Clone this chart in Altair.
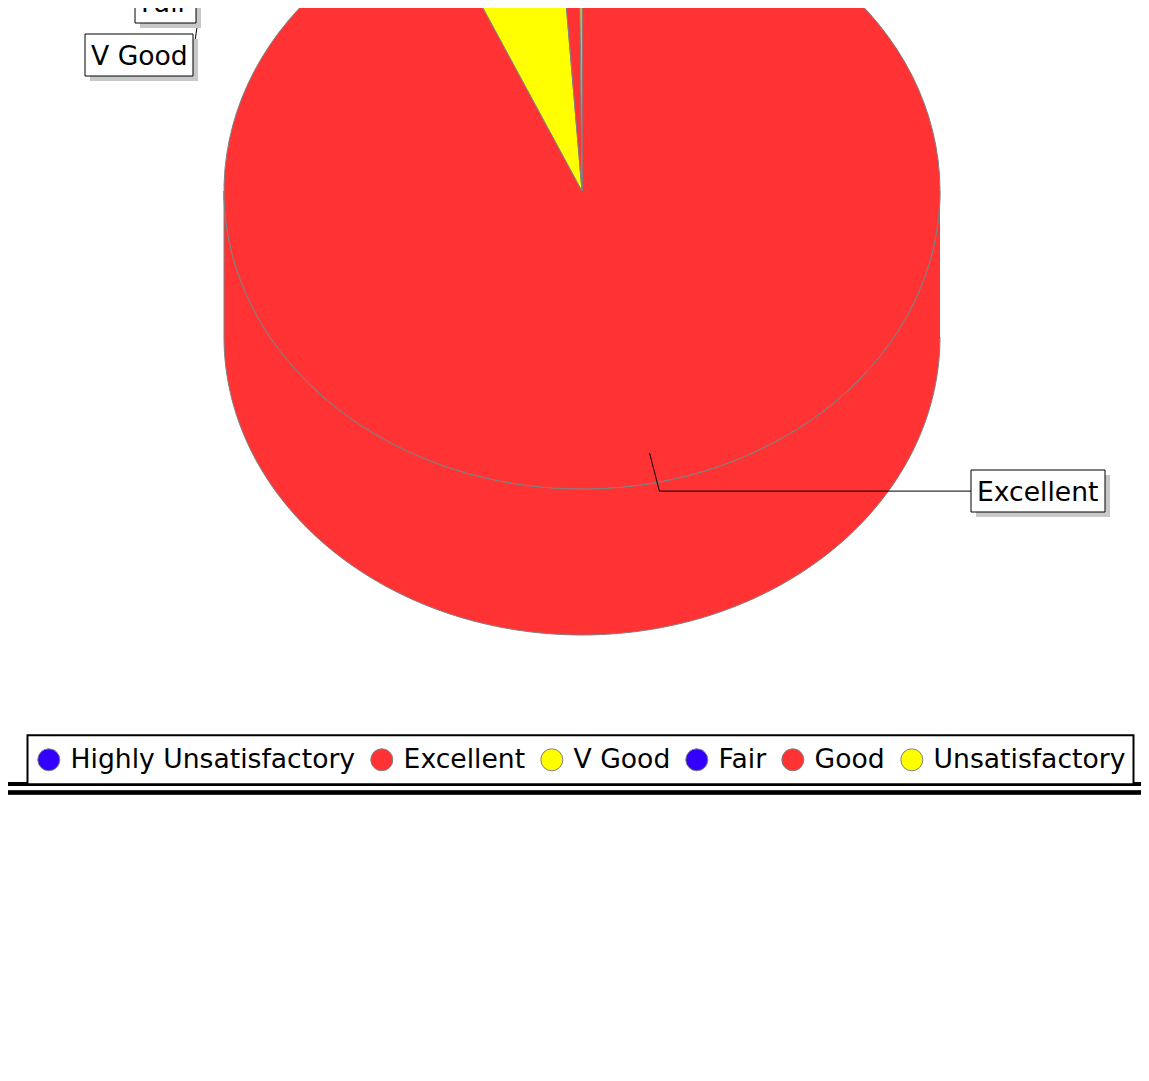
import math
import altair as alt
import pandas as pd

# ---------------- data ----------------
categories = ["Highly Unsatisfactory", "Excellent", "V Good", "Fair", "Good", "Unsatisfactory"]
counts = [0, 665, 40, 0, 7, 1]
colors = ["#3300ff", "#ff3333", "#ffff00", "#3300ff", "#ff3333", "#ffff00"]
label_names = ["Fair", "V Good", "Excellent"]

# ---------------- layout (view pixels; view origin = page (8, 8)) ----------------
OFF = 8
W, H = 1133, 1000
CX, CY = 582 - OFF, 191 - OFF
A, B, DEPTH = 358, 298, 146
N = 120
FONT = "DejaVu Sans"
FS = 26.6
GRAY = "#808080"

# label boxes (left, top, right, bottom) in page pixels
label_boxes = {
    "Fair": (135, -19, 196, 23),
    "V Good": (85, 34, 193, 76),
    "Excellent": (971, 470, 1105, 512),
}

slices = pd.DataFrame({"category": categories, "n": counts, "idx": list(range(len(categories)))})

xs = alt.Scale(domain=[0, W], nice=False, zero=False)
ys = alt.Scale(domain=[0, H], nice=False, zero=False, reverse=True)
cs = alt.Scale(domain=categories, range=colors)

geo = (
    alt.Chart(slices)
    .transform_window(cum="sum(n)", sort=[{"field": "idx"}], frame=[None, 0])
    .transform_joinaggregate(total="sum(n)")
    .transform_calculate(a1="(datum.cum - datum.n) / datum.total * 2 * PI")
    .transform_calculate(a2="datum.cum / datum.total * 2 * PI")
    .transform_filter("datum.n > 0")
)

# front wall of the 3D pie
side = (
    geo.transform_calculate(s="max(datum.a1, PI / 2)")
    .transform_calculate(e="min(datum.a2, 3 * PI / 2)")
    .transform_filter("datum.e > datum.s")
    .transform_calculate(k=f"sequence(0, {2 * N + 2})")
    .transform_flatten(["k"])
    .transform_calculate(bot=f"datum.k > {N} ? 1 : 0")
    .transform_calculate(
        t=f"datum.k <= {N} ? datum.s + (datum.e - datum.s) * datum.k / {N} : datum.e - (datum.e - datum.s) * (datum.k - {N + 1}) / {N}"
    )
    .transform_calculate(px=f"{CX} + {A} * sin(datum.t)")
    .transform_calculate(py=f"{CY} - {B} * cos(datum.t) + datum.bot * {DEPTH}")
    .mark_line(stroke=GRAY, strokeWidth=1, clip=True, strokeJoin="round")
    .encode(
        x=alt.X("px:Q", scale=xs, axis=None),
        y=alt.Y("py:Q", scale=ys, axis=None),
        order="k:Q",
        detail="category:N",
        fill=alt.Fill("category:N", scale=cs, legend=None),
    )
)

# top face slices
top = (
    geo.transform_calculate(k=f"sequence(0, {N + 3})")
    .transform_flatten(["k"])
    .transform_calculate(t=f"datum.a1 + (datum.a2 - datum.a1) * clamp(datum.k - 1, 0, {N}) / {N}")
    .transform_calculate(inner=f"datum.k == 0 || datum.k == {N + 2} ? 1 : 0")
    .transform_calculate(px=f"datum.inner ? {CX} : {CX} + {A} * sin(datum.t)")
    .transform_calculate(py=f"datum.inner ? {CY} : {CY} - {B} * cos(datum.t)")
    .mark_line(stroke=GRAY, strokeWidth=1, clip=True, strokeJoin="round")
    .encode(
        x=alt.X("px:Q", scale=xs, axis=None),
        y=alt.Y("py:Q", scale=ys, axis=None),
        order="k:Q",
        detail="category:N",
        fill=alt.Fill("category:N", scale=cs, legend=None),
    )
)

# legend carrier (hidden under the pie)
legend_layer = (
    alt.Chart(slices)
    .mark_circle(size=1, stroke=GRAY, strokeWidth=1, opacity=1)
    .encode(
        x=alt.value(CX),
        y=alt.value(CY + 100),
        fill=alt.Fill(
            "category:N",
            scale=cs,
            sort=categories,
            legend=alt.Legend(
                orient="none",
                legendX=27.5 - OFF,
                legendY=735.3 - OFF,
                direction="horizontal",
                title=None,
                symbolType="circle",
                symbolSize=484,
                symbolStrokeColor=GRAY,
                symbolStrokeWidth=1,
                symbolOpacity=1,
                labelFont=FONT,
                labelFontSize=FS,
                labelColor="black",
                labelOffset=8.5,
                labelLimit=800,
                columnPadding=13,
                padding=8,
                clipHeight=33,
                strokeColor="black",
                fillColor="white",
            ),
        ),
    )
)

# label links
total = sum(counts)
i_ex = categories.index("Excellent")
cum_before = sum(counts[:i_ex])
mid = (cum_before + counts[i_ex] / 2) / total * 2 * math.pi
p1 = (CX + 0.9 * A * math.sin(mid), CY - 0.9 * B * math.cos(mid))
p2 = (CX + 1.03 * A * math.sin(mid), CY - 1.03 * B * math.cos(mid))
ex_box = label_boxes["Excellent"]
links = pd.DataFrame(
    {
        "x": [p1[0], p2[0], 203 - OFF, 202 - OFF],
        "y": [p1[1], p2[1], -20 - OFF, -8 - OFF],
        "x2": [p2[0], ex_box[0] - OFF, 196 - OFF, 193 - OFF],
        "y2": [p2[1], p2[1], 2 - OFF, 55 - OFF],
    }
)
link_layer = (
    alt.Chart(links)
    .mark_rule(color="black", strokeWidth=1, clip=True)
    .encode(
        x=alt.X("x:Q", scale=xs, axis=None),
        y=alt.Y("y:Q", scale=ys, axis=None),
        x2="x2:Q",
        y2="y2:Q",
    )
)

lab = pd.DataFrame(
    {
        "label": label_names,
        "x1": [label_boxes[l][0] - OFF for l in label_names],
        "y1": [label_boxes[l][1] - OFF for l in label_names],
        "x2": [label_boxes[l][2] - OFF for l in label_names],
        "y2": [label_boxes[l][3] - OFF for l in label_names],
    }
)
lab["sx1"] = lab["x1"] + 5
lab["sx2"] = lab["x2"] + 5
lab["sy1"] = lab["y1"] + 5
lab["sy2"] = lab["y2"] + 5
lab["tx"] = lab["x1"] + 6
lab["ty"] = lab["y1"] + 30.5

shadow = (
    alt.Chart(lab)
    .mark_rect(fill="#c8c8c8", clip=True)
    .encode(
        x=alt.X("sx1:Q", scale=xs, axis=None),
        x2="sx2:Q",
        y=alt.Y("sy1:Q", scale=ys, axis=None),
        y2="sy2:Q",
    )
)
box = (
    alt.Chart(lab)
    .mark_rect(fill="white", stroke="black", strokeWidth=1, clip=True)
    .encode(
        x=alt.X("x1:Q", scale=xs, axis=None),
        x2="x2:Q",
        y=alt.Y("y1:Q", scale=ys, axis=None),
        y2="y2:Q",
    )
)
text = (
    alt.Chart(lab)
    .mark_text(font=FONT, fontSize=FS, color="black", align="left", baseline="alphabetic", clip=True)
    .encode(
        x=alt.X("tx:Q", scale=xs, axis=None),
        y=alt.Y("ty:Q", scale=ys, axis=None),
        text="label:N",
    )
)

# chart border lines under the legend
border1 = alt.Chart(slices).mark_rule(color="black", strokeWidth=4).encode(
    x=alt.value(0), x2=alt.value(W), y=alt.value(784 - OFF)
)
border2 = alt.Chart(slices).mark_rule(color="black", strokeWidth=3.5).encode(
    x=alt.value(0), x2=alt.value(W), y=alt.value(792.5 - OFF)
)

chart = (
    alt.layer(legend_layer, side, top, link_layer, shadow, box, text, border1, border2)
    .properties(width=W, height=H, padding=0, autosize=alt.AutoSizeParams(type="none"), background="white")
    .configure_view(stroke=None)
    .configure_legend(strokeWidth=2)
)

chart.save("out.html", embed_options={"renderer": "svg", "actions": False})
